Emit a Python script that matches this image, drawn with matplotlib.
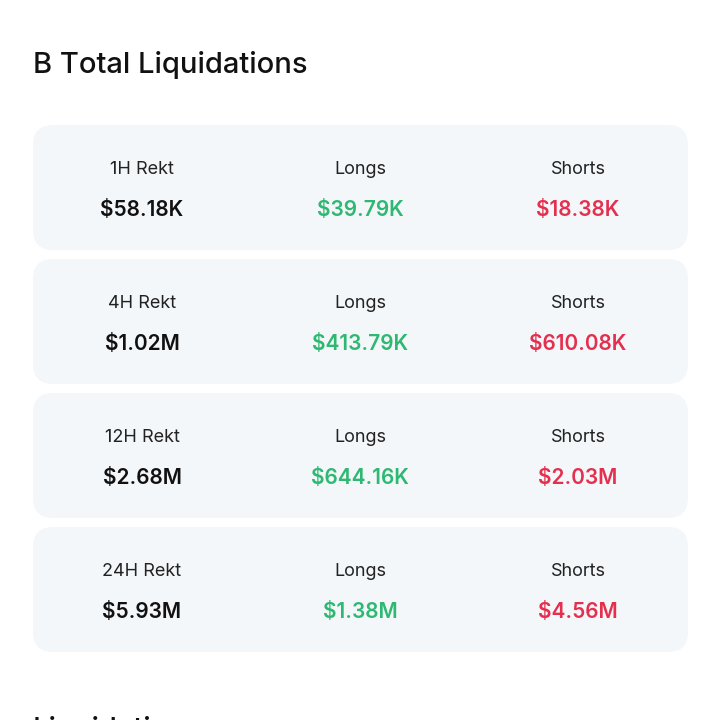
import matplotlib.pyplot as plt
from matplotlib.patches import FancyBboxPatch

plt.rcParams['font.family'] = ['Inter', 'DejaVu Sans']

periods = ['1H Rekt', '4H Rekt', '12H Rekt', '24H Rekt']
totals = ['$58.18K', '$1.02M', '$2.68M', '$5.93M']
longs = ['$39.79K', '$413.79K', '$644.16K', '$1.38M']
shorts = ['$18.38K', '$610.08K', '$2.03M', '$4.56M']

card_bg = '#f4f7fa'
green = '#2eb872'
red = '#e4304f'
dark = '#111111'

fig = plt.figure(figsize=(7.2, 7.2), dpi=100)
ax = fig.add_axes([0, 0, 1, 1])
ax.set_xlim(0, 720)
ax.set_ylim(720, 0)
ax.axis('off')

ax.text(33, 65, 'B Total Liquidations', fontsize=21, fontweight='medium',
        color=dark, va='center', ha='left')

cols = [142, 360, 578]
for i in range(len(periods)):
    top = 125 + i * 134
    card = FancyBboxPatch((33 + 20, top + 20), 655 - 40, 125 - 40,
                          boxstyle='round,pad=20', fc=card_bg, ec='none')
    ax.add_patch(card)
    heads = [periods[i], 'Longs', 'Shorts']
    vals = [(totals[i], dark), (longs[i], green), (shorts[i], red)]
    for x, h, (v, c) in zip(cols, heads, vals):
        ax.text(x, top + 45, h, fontsize=13, color='#222222',
                ha='center', va='center')
        ax.text(x, top + 85, v, fontsize=15, fontweight='semibold',
                color=c, ha='center', va='center')

# next section heading, cut off by the bottom edge
ax.text(33, 730, 'Liquidations', fontsize=21, fontweight='medium',
        color=dark, va='center', ha='left', clip_on=True)

fig.savefig('out.png', dpi=100)
